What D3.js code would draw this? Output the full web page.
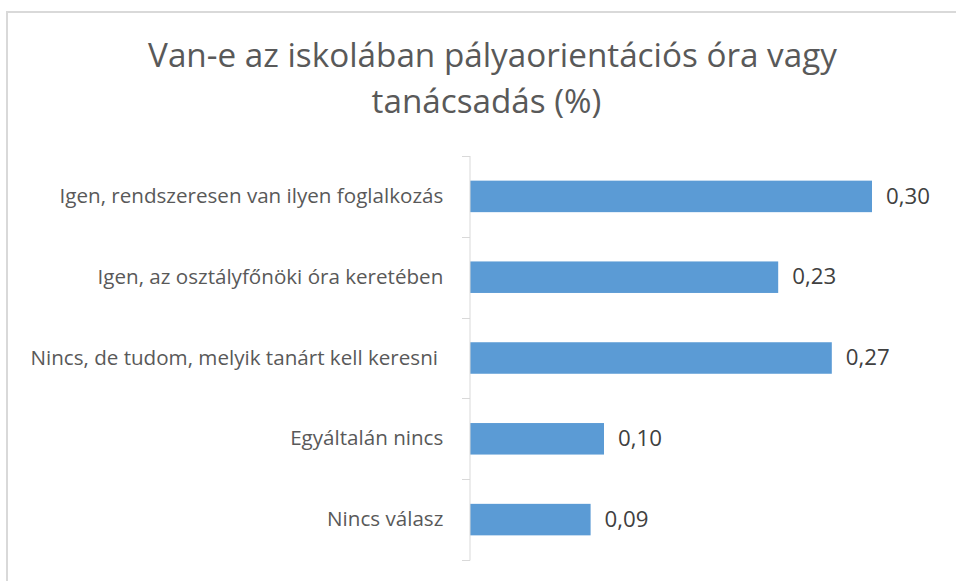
<!DOCTYPE html>
<html>
<head>
<meta charset="utf-8">
<script src="https://cdn.jsdelivr.net/npm/d3@7"></script>
<style>
  html, body { margin: 0; padding: 0; background: #fff; }
  svg { display: block; }
  text { font-family: "Open Sans", "Noto Sans", sans-serif; white-space: pre; }
</style>
</head>
<body>
<svg id="chart" width="956" height="581"></svg>
<script>
const titleLines = ["Van-e az iskolában pályaorientációs óra vagy", "tanácsadás (%)"];
const categories = [
  "Igen, rendszeresen van ilyen foglalkozás",
  "Igen, az osztályfőnöki óra keretében",
  "Nincs, de tudom, melyik tanárt kell keresni ",
  "Egyáltalán nincs",
  "Nincs válasz"
];
const values = [0.30, 0.23, 0.27, 0.10, 0.09];
const xDomainMax = 0.35;

const svg = d3.select("#chart");

// chart border (top and left visible)
svg.append("line").attr("x1", 7).attr("x2", 956).attr("y1", 12).attr("y2", 12)
  .attr("stroke", "#d9d9d9").attr("stroke-width", 2);
svg.append("line").attr("x1", 7).attr("x2", 7).attr("y1", 11).attr("y2", 581)
  .attr("stroke", "#d9d9d9").attr("stroke-width", 2);

// helper: fit font size to target width
function fitSize(text, target, base) {
  const t = svg.append("text").attr("font-size", base).text(text);
  const w = t.node().getComputedTextLength();
  t.remove();
  return base * target / w;
}

// title
const titleSize = fitSize(titleLines[0], 689, 30);
const titleCx = [492.5, 486.5];
const titleBase = [67, 113];
titleLines.forEach((ln, i) => {
  svg.append("text")
    .attr("x", titleCx[i]).attr("y", titleBase[i])
    .attr("text-anchor", "middle")
    .attr("font-size", titleSize)
    .attr("fill", "#595959")
    .text(ln);
});

const x0 = 470;
const x = d3.scaleLinear().domain([0, xDomainMax]).range([x0, x0 + xDomainMax * 1340]);
const y = d3.scaleBand().domain(categories).range([156, 560]).paddingInner(0.61).paddingOuter(0.305);

// bars
svg.append("g").selectAll("rect")
  .data(categories)
  .join("rect")
  .attr("x", x(0))
  .attr("y", d => y(d))
  .attr("width", (d, i) => x(values[i]) - x(0))
  .attr("height", y.bandwidth())
  .attr("fill", "#5b9bd5");

// category axis
const catSize = fitSize(categories[0], 384, 20);
const axis = d3.axisLeft(y).tickSize(0).tickPadding(26.7);
const ag = svg.append("g").attr("transform", `translate(${x0},0)`).call(axis);
ag.select(".domain").remove();
ag.selectAll("text")
  .attr("font-size", catSize)
  .attr("fill", "#595959")
  .attr("font-family", null)
  .attr("dy", "0.32em");

// axis line and tick marks at band boundaries
svg.append("line").attr("x1", x0).attr("x2", x0).attr("y1", 156).attr("y2", 560.5)
  .attr("stroke", "#d9d9d9").attr("stroke-width", 1);
const bounds = categories.map(c => y(c) - y.step() * y.paddingInner() / 2).concat([560]);
svg.append("g").selectAll("line")
  .data(bounds)
  .join("line")
  .attr("x1", x0 - 8).attr("x2", x0)
  .attr("y1", d => Math.round(d) + 0.5).attr("y2", d => Math.round(d) + 0.5)
  .attr("stroke", "#d9d9d9").attr("stroke-width", 1);

// value labels
const fmt = v => d3.format(".2f")(v).replace(".", ",");
const valSize = fitSize("0,30", 44, 20);
svg.append("g").selectAll("text")
  .data(categories)
  .join("text")
  .attr("x", (d, i) => x(values[i]) + 14)
  .attr("y", d => y(d) + y.bandwidth() / 2)
  .attr("dy", "0.32em")
  .attr("font-size", valSize)
  .attr("fill", "#404040")
  .text((d, i) => fmt(values[i]));
</script>
</body>
</html>
